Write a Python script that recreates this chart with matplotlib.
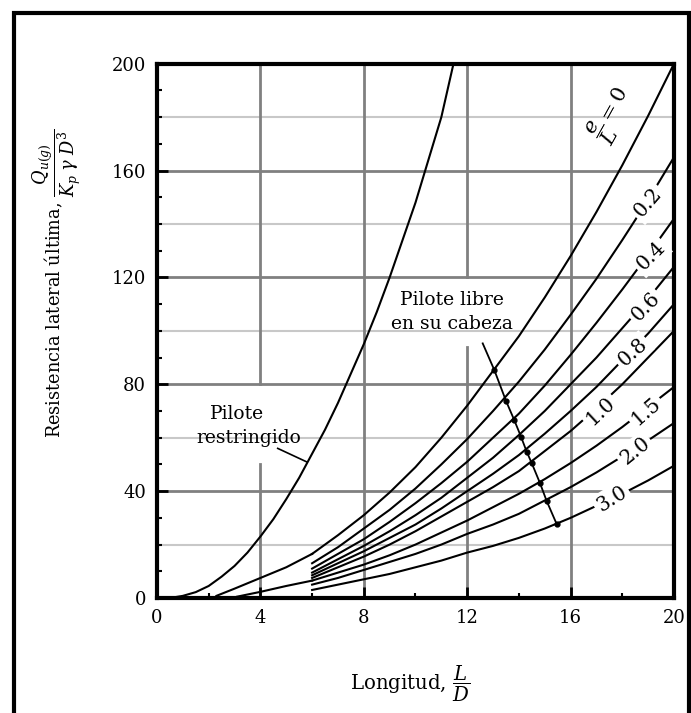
# Broms chart: ultimate lateral resistance of short piles in sand
# Restrained pile vs free head piles for several e/L values

import matplotlib
matplotlib.use("Agg")
import matplotlib.pyplot as plt
from matplotlib.patches import Rectangle

plt.rcParams["font.family"] = ["DejaVu Serif"]
plt.rcParams["mathtext.fontset"] = "dejavuserif"

# Restrained head pile
restr_x = [0.5, 1, 1.5, 2, 2.5, 3, 3.5, 4, 4.5, 5, 5.5, 6, 6.5, 7, 7.5,
           8, 8.5, 9, 9.5, 10, 10.5, 11, 11.47]
restr_y = [0, 0.8, 2.2, 4.5, 8, 12, 17, 23, 29.5, 37, 45, 54, 63, 73, 84,
           95, 107, 120, 134, 148, 164, 180, 200]

# Free head piles, one curve per e/L value
eL_names = ["0", "0.2", "0.4", "0.6", "0.8", "1.0", "1.5", "2.0", "3.0"]
free_x = [6, 7, 8, 9, 10, 11, 12, 13, 14, 15, 16, 17, 18, 19, 20]
y_00 = [16.5, 23.5, 31, 39.5, 49, 60, 72, 85, 98, 112.5, 128, 144.5, 162, 180.5, 200]
y_02 = [13, 19, 26, 33, 41, 50, 59.5, 70, 81, 93, 106, 119.5, 134, 149, 165]
y_04 = [11, 16.5, 22, 28.5, 35.5, 43, 51, 60, 69, 79.5, 91, 103, 115.5, 128.5, 142]
y_06 = [9.5, 14.5, 19.5, 25, 31, 37.5, 45, 52.5, 61, 70, 80, 90, 101, 112, 124]
y_08 = [8.5, 13, 17.5, 22.5, 27.5, 33.5, 40, 46.5, 53.5, 61.5, 70, 79, 89, 99, 110]
y_10 = [7.5, 11.5, 15.5, 20, 25, 30.5, 36, 41.5, 47.5, 55, 62.5, 71, 80, 90, 100]
y_15 = [6.5, 9.5, 12.5, 16, 20, 24.5, 29, 34, 39, 44.5, 50.5, 57, 64, 71.5, 79]
y_20 = [5, 7.5, 10.5, 13.5, 16.5, 20, 24, 27.5, 31.5, 36.5, 41.5, 47, 53, 59, 65.5]
y_30 = [3, 5, 7, 9, 11.5, 14, 17, 19.5, 22.5, 26, 30, 34.5, 39, 44, 49.5]
free_y = [y_00, y_02, y_04, y_06, y_08, y_10, y_15, y_20, y_30]

# two of the curves carry on to the left of L/D = 6
ext_00_x = [2.3, 3, 4, 5]
ext_00_y = [0.8, 3.5, 7.5, 11.5]
ext_15_x = [3.1, 4, 5]
ext_15_y = [0.5, 2.3, 4.5]

# "Pilote libre en su cabeza" leader with a dot on every curve
dot_x = [13.05, 13.5, 13.82, 14.08, 14.3, 14.5, 14.82, 15.07, 15.46]
dot_y = [85.3, 73.8, 66.6, 60.4, 54.8, 50.4, 42.9, 36.4, 27.7]

# where each e/L number sits on its curve (x, y, rotation)
label_spots = [None, (19.0, 148, 49), (19.1, 128, 45), (18.9, 109, 46),
               (18.4, 92, 42), (17.15, 70, 43), (18.9, 70, 41),
               (18.5, 55, 39), (17.6, 37, 32)]


def draw_grid(ax):
    for y in [40, 80, 120, 160]:
        ax.plot([0, 20], [y, y], color="#808080", lw=2, zorder=1)
    for y in [20, 60, 100, 140, 180]:
        ax.plot([0, 20], [y, y], color="#c8c8c8", lw=1.5, zorder=1)
    # vertical lines are cut where the text sits
    pieces = {4: [(0, 50), (80, 200)], 8: [(0, 200)],
              12: [(0, 94), (120, 200)], 16: [(0, 200)]}
    for x, segs in pieces.items():
        for a, b in segs:
            ax.plot([x, x], [a, b], color="#808080", lw=2, zorder=1)


def main():
    fig = plt.figure(figsize=(6.91, 7.13), dpi=100)
    ax = fig.add_axes([0.2272, 0.1613, 0.7482, 0.7494])
    ax.set_xlim(0, 20)
    ax.set_ylim(0, 200)

    draw_grid(ax)

    ax.plot(restr_x, restr_y, color="black", lw=1.5, zorder=2)
    for ys in free_y:
        ax.plot(free_x, ys, color="black", lw=1.5, zorder=2)
    ax.plot(ext_00_x + free_x[:1], ext_00_y + y_00[:1], color="black", lw=1.5, zorder=2)
    ax.plot(ext_15_x + free_x[:1], ext_15_y + y_15[:1], color="black", lw=1.5, zorder=2)

    # e/L labels sitting in gaps of the curves
    for name, spot in zip(eL_names, label_spots):
        if spot is None:
            continue
        ax.text(spot[0], spot[1], name, rotation=spot[2], fontsize=14.5,
                ha="center", va="center", rotation_mode="anchor", zorder=3,
                bbox=dict(boxstyle="square,pad=0.15", fc="white", ec="none"))
    ax.text(17.6, 181, r"$\dfrac{e}{L}=0$", rotation=61, fontsize=15,
            ha="center", va="center", rotation_mode="anchor", zorder=3)

    # leader for the free head piles
    ax.plot([12.6] + dot_x, [95.3] + dot_y, color="black", lw=1.3, zorder=3)
    ax.plot(dot_x, dot_y, "o", color="black", ms=3.5, zorder=4)
    ax.text(11.4, 111.5, "Pilote libre", fontsize=13.5, ha="center", va="center")
    ax.text(11.4, 102.6, "en su cabeza", fontsize=13.5, ha="center", va="center")

    # restrained pile label
    ax.text(3.08, 69, "Pilote", fontsize=13.5, ha="center", va="center")
    ax.text(3.56, 60, "restringido", fontsize=13.5, ha="center", va="center")
    ax.plot([4.67, 5.78], [56, 51], color="black", lw=1.2, zorder=3)

    ax.set_xticks([0, 4, 8, 12, 16, 20])
    ax.set_xticks([2, 6, 10, 14, 18], minor=True)
    ax.set_yticks([0, 40, 80, 120, 160, 200])
    ax.set_yticks(range(10, 200, 10), minor=True)
    ax.tick_params(which="major", direction="in", length=8, width=2,
                   labelsize=13, pad=8, top=False, right=False)
    ax.tick_params(which="minor", direction="in", length=3.5, width=1.5,
                   top=False, right=False)
    for s in ax.spines.values():
        s.set_linewidth(3)

    fig.text(0.0825, 0.602,
             r"Resistencia lateral última, $\dfrac{Q_{u(g)}}{K_p\;\gamma\;D^3}$",
             rotation=90, fontsize=12.8, ha="center", va="center")
    fig.text(0.593, 0.041, r"Longitud, $\dfrac{L}{D}$", fontsize=14.2,
             ha="center", va="center")

    # heavy frame around the whole figure
    fig.patches.append(Rectangle((13.8 / 691, -0.1), (689 - 13.8) / 691,
                                 1.1 - 13.4 / 713, transform=fig.transFigure,
                                 fill=False, ec="black", lw=3, clip_on=False))

    fig.savefig("out.png", dpi=100)


main()
